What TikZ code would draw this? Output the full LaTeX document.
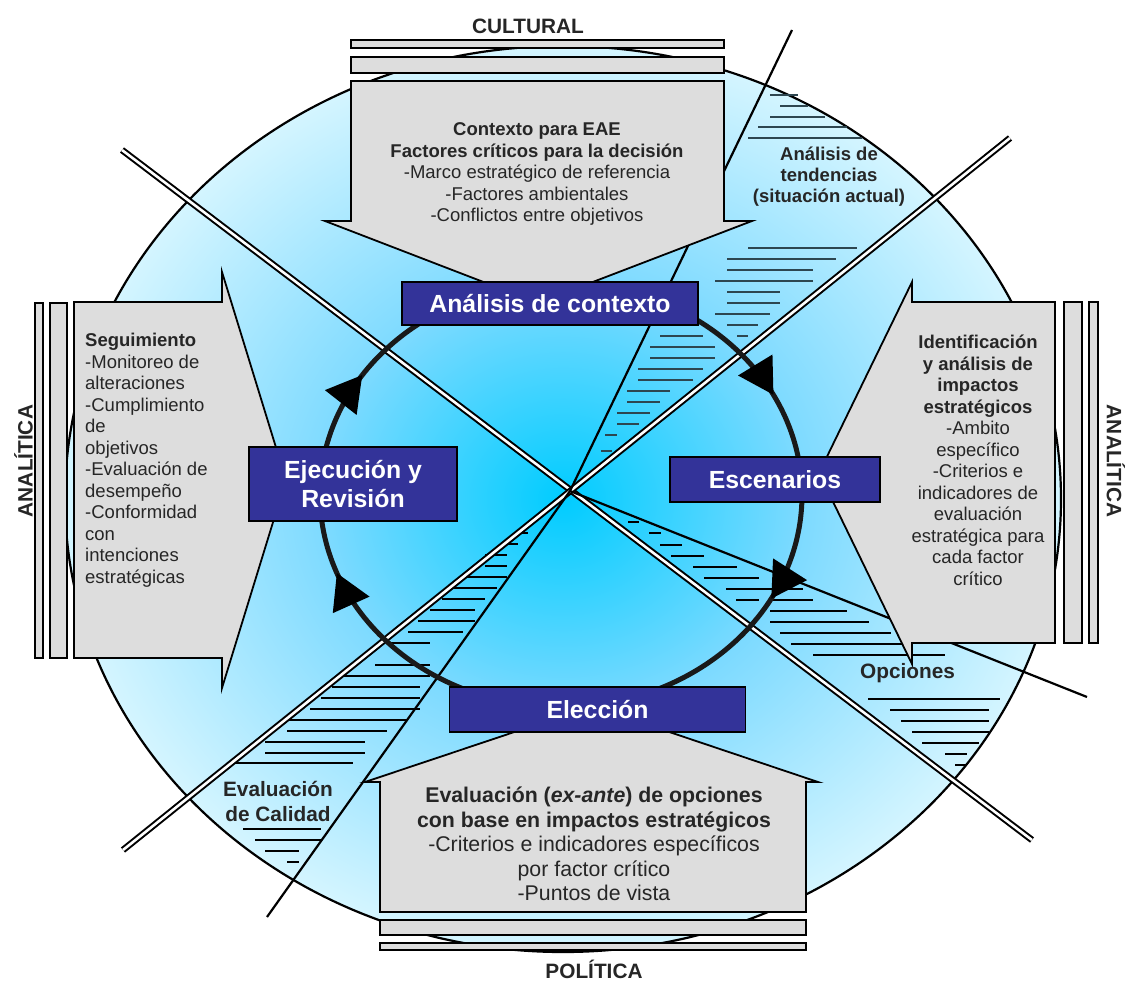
\documentclass[tikz,border=0pt]{standalone}
\usepackage{fontspec}
\setmainfont{Liberation Sans}
\usetikzlibrary{arrows.meta,decorations.markings}
\definecolor{stageblue}{RGB}{51,51,153}
\definecolor{panelgrey}{RGB}{221,221,221}
\definecolor{inkgrey}{RGB}{38,38,38}
\definecolor{cycleink}{RGB}{25,25,25}
\definecolor{hatchslate}{RGB}{45,70,80}
\definecolor{glowcore}{RGB}{0,204,255}
\definecolor{glowmid}{RGB}{125,218,255}
\definecolor{glowedge}{RGB}{212,245,255}
\pgfdeclareradialshading{glow}{\pgfpoint{0bp}{0bp}}{color(0bp)=(glowcore); color(12bp)=(glowmid); color(25bp)=(glowedge); color(50bp)=(glowedge)}
\tikzstyle{panel} = [
 draw=black,
 line width=1.8pt,
 fill=panelgrey
]
\tikzstyle{rail} = [
 draw=black,
 line width=1.6pt,
 fill=panelgrey
]
\tikzstyle{stage} = [
 rectangle,
 draw=black,
 line width=1.6pt,
 fill=stageblue,
 text=white,
 font=\bfseries\fontsize{24.8}{29}\selectfont,
 align = center,
 inner sep=0pt
]
\tikzstyle{panelText} = [
 text=inkgrey,
 font=\fontsize{18.5}{21.5}\selectfont,
 inner sep=0pt
]
\tikzstyle{sideLabel} = [
 text=inkgrey,
 font=\bfseries\fontsize{20.8}{25}\selectfont,
 inner sep=0pt
]
\tikzstyle{wedgeLabel} = [
 text=inkgrey,
 font=\bfseries\fontsize{18.5}{21}\selectfont,
 align = center,
 inner sep=0pt
]
\tikzstyle{axis} = [
 line width=2pt,
 double=white,
 double distance=2.6pt
]
\tikzstyle{ray} = [line width=2.2pt]
\tikzstyle{hatch} = [line width=2pt]
\tikzstyle{cycleLine} = [
 draw=cycleink,
 line width=5pt,
 postaction={decorate},
 decoration={markings,
  mark=at position 0.077 with {\arrow[black]{Triangle[length=35pt,width=39pt]}},
  mark=at position 0.4436 with {\arrow[black]{Triangle[length=35pt,width=39pt]}},
  mark=at position 0.591 with {\arrow[black]{Triangle[length=35pt,width=39pt]}},
  mark=at position 0.926 with {\arrow[black]{Triangle[length=35pt,width=39pt]}}}
]

\begin{document}
\begin{tikzpicture}[x=1pt, y=-1pt]
  \useasboundingbox (0,0) rectangle (1125,983);
  \shadedraw[shading=glow, line width=2.2pt] (563,499) ellipse [x radius=498, y radius=453];

  \foreach \yy/\xa/\xb in {95/770/798, 106/780/808, 117/770/825, 127/758/847,
    138/748/862, 248/748/857, 259/727/836, 270/727/813, 281/715/813, 292/727/780,
    303/727/780, 314/715/770, 325/727/758, 336/660/703, 336/737/748, 347/650/715,
    358/650/715, 369/638/703, 380/638/693, 391/627/670, 402/627/660, 413/617/650,
    424/617/639, 435/605/617, 451/601/612}
    \draw[hatch, hatchslate] (\xa,\yy) -- (\xb,\yy);
  \foreach \yy/\xa/\xb in {522/628/639, 533/649/661, 545/660/682, 556/671/704,
    567/693/737, 578/704/759, 589/726/803, 600/736/759, 600/773/813, 611/770/847,
    622/770/869, 633/780/891, 644/791/913, 655/813/945, 699/868/1000, 710/890/989,
    721/901/989, 732/912/989, 743/922/979, 754/945/967, 765/955/967}
    \draw[hatch] (\xa,\yy) -- (\xb,\yy);
  \foreach \yy/\xa/\xb in {533/517/528, 544/507/518, 555/485/507, 566/485/507,
    577/463/507, 588/452/497, 599/442/485, 610/430/475, 621/418/475, 632/408/463,
    643/387/430, 665/375/430, 676/343/430, 687/332/420, 698/321/420, 709/310/420,
    720/287/408, 731/287/387, 742/265/365, 753/265/365, 763/233/353, 829/243/321,
    840/255/321, 851/265/299, 862/287/299}
    \draw[hatch] (\xa,\yy) -- (\xb,\yy);

  \coordinate (hub) at (570,491);
  \coordinate (axisNW) at (122,150);
  \coordinate (axisSE) at (1032,840);
  \coordinate (axisNE) at (1010,138);
  \coordinate (axisSW) at (123,850);
  \coordinate (rayTop) at (792,30);
  \coordinate (rayLeft) at (267,917);
  \coordinate (rayRight) at (1087,697);
  \draw[axis] (axisNW) -- (axisSE);
  \draw[axis] (axisNE) -- (axisSW);
  \draw[ray] (hub) -- (rayTop);
  \draw[ray] (hub) -- (rayLeft);
  \draw[ray] (hub) -- (rayRight);

  \draw[cycleLine] (561,495) ellipse [x radius=241, y radius=212];

  \draw[panel] (351,81) -- (724,81) -- (724,221) -- (752,221) -- (538,303) -- (325,221) -- (351,221) -- cycle;
  \draw[panel] (74,302) -- (222,302) -- (222,272) -- (286,480) -- (222,688) -- (222,658) -- (74,658) -- cycle;
  \draw[panel] (1055,302) -- (1055,643) -- (912,643) -- (912,664) -- (819,473) -- (912,282) -- (912,302) -- cycle;
  \draw[panel] (380,912) -- (380,782) -- (365,782) -- (592,706) -- (818,782) -- (806,782) -- (806,912) -- cycle;

  \node[stage, minimum width=296pt, minimum height=43pt] (contexto) at (550,303.5) {Análisis de contexto};
  \node[stage, minimum width=208pt, minimum height=74pt] (ejecucion) at (353,484) {Ejecución y\\Revisión};
  \node[stage, minimum width=210pt, minimum height=45pt] (escenarios) at (775,479.5) {Escenarios};
  \node[stage, minimum width=296pt, minimum height=45pt] (eleccion) at (597.5,709.5) {Elección};

  \node[panelText, align=center] (contextoText) at (537,174)
    {\textbf{Contexto para EAE}\\\textbf{Factores críticos para la decisión}\\-Marco estratégico de referencia\\-Factores ambientales\\-Conflictos entre objetivos};
  \node[panelText, align=left, anchor=west] (seguimientoText) at (85,460)
    {\textbf{Seguimiento}\\-Monitoreo de\\alteraciones\\-Cumplimiento\\de\\objetivos\\-Evaluación de\\desempeño\\-Conformidad\\con\\intenciones\\estratégicas};
  \node[panelText, align=center] (impactosText) at (978,460.5)
    {\textbf{Identificación}\\\textbf{y análisis de}\\\textbf{impactos}\\\textbf{estratégicos}\\-Ambito\\específico\\-Criterios e\\indicadores de\\evaluación\\estratégica para\\cada factor\\crítico};
  \node[panelText, align=center, font=\fontsize{21.3}{24.6}\selectfont] (opcionesText) at (594,844)
    {\textbf{Evaluación (\textit{ex-ante}) de opciones}\\\textbf{con base en impactos estratégicos}\\-Criterios e indicadores específicos\\por factor crítico\\-Puntos de vista};

  \node[wedgeLabel] (tendencias) at (829,177) {Análisis de\\tendencias\\(situación actual)};
  \node[wedgeLabel, font=\bfseries\fontsize{20.8}{25}\selectfont] (calidad) at (278,801) {Evaluación\\de Calidad};
  \node[wedgeLabel, font=\bfseries\fontsize{20.8}{25}\selectfont] (opciones) at (907.5,673) {Opciones};

  \draw[rail] (351,40) rectangle (724,48);
  \draw[rail] (351,57) rectangle (724,73);
  \draw[rail] (380,920) rectangle (806,935);
  \draw[rail] (380,943) rectangle (806,950);
  \draw[rail] (35,303) rectangle (43,658);
  \draw[rail] (50,303) rectangle (67,658);
  \draw[rail] (1064,302) rectangle (1082,643);
  \draw[rail] (1089,302) rectangle (1098,643);

  \node[sideLabel] (cultural) at (528,26) {CULTURAL};
  \node[sideLabel] (politica) at (594,969) {POLÍTICA};
  \node[sideLabel, rotate=90] (analiticaL) at (23.5,461) {ANALÍTICA};
  \node[sideLabel, rotate=-90] (analiticaR) at (1116,461) {ANALÍTICA};
\end{tikzpicture}
\end{document}
